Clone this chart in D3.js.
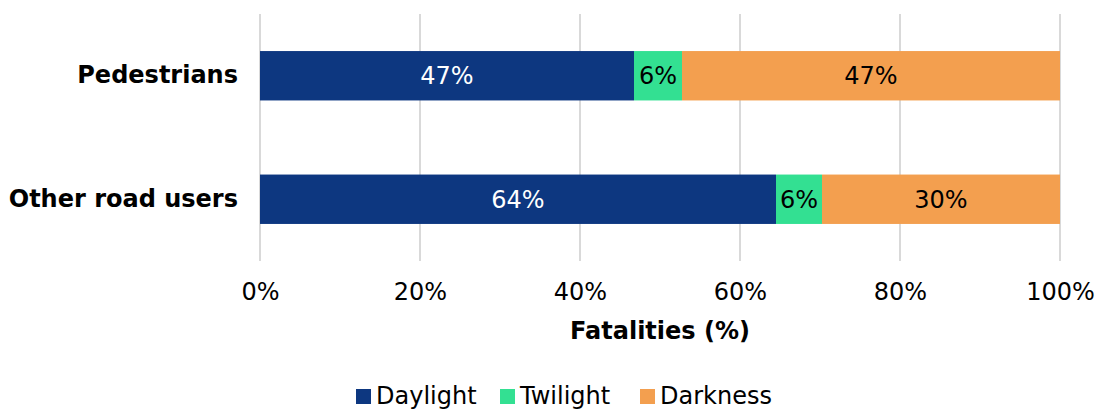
<!DOCTYPE html>
<html>
<head>
<meta charset="utf-8">
<script src="https://cdn.jsdelivr.net/npm/d3@7"></script>
<style>
  html, body { margin: 0; padding: 0; background: #fff; }
  svg { display: block; font-family: "DejaVu Sans", Verdana, sans-serif; }
</style>
</head>
<body>
<svg id="chart" width="1102" height="412"></svg>
<script>
const categories = ["Pedestrians", "Other road users"];
const seriesNames = ["Daylight", "Twilight", "Darkness"];
const daylight = [46.75, 64.5];
const twilight = [6.0, 5.75];
const darkness = [47.25, 29.75];
const dataLabels = [["47%", "6%", "47%"], ["64%", "6%", "30%"]];
const tickValues = [0, 20, 40, 60, 80, 100];
const colors = ["#0d3780", "#33e092", "#f39f4f"];
const labelColors = ["#ffffff", "#000000", "#000000"];

const svg = d3.select("#chart");
const margin = { left: 260, right: 42, top: 14, bottom: 151 };
const W = 1102, H = 412;
const FS = 24;

const x = d3.scaleLinear().domain([0, 100]).range([margin.left, W - margin.right]);
const y = d3.scaleBand().domain(categories).range([margin.top, H - margin.bottom]).paddingInner(0.6).paddingOuter(0.3);

// gridlines
svg.append("g").selectAll("line").data(tickValues).join("line")
  .attr("x1", d => x(d)).attr("x2", d => x(d))
  .attr("y1", margin.top).attr("y2", H - margin.bottom)
  .attr("stroke", "#d9d9d9").attr("stroke-width", 2);

// stack
const rows = categories.map((c, i) => ({ cat: c, Daylight: daylight[i], Twilight: twilight[i], Darkness: darkness[i], idx: i }));
const stack = d3.stack().keys(seriesNames)(rows);

const gBars = svg.append("g");
stack.forEach((layer, si) => {
  gBars.append("g").selectAll("rect").data(layer).join("rect")
    .attr("x", d => x(d[0]))
    .attr("width", d => x(d[1]) - x(d[0]))
    .attr("y", d => y(d.data.cat))
    .attr("height", y.bandwidth())
    .attr("fill", colors[si]);
  gBars.append("g").selectAll("text").data(layer).join("text")
    .attr("x", d => (x(d[0]) + x(d[1])) / 2)
    .attr("y", d => y(d.data.cat) + y.bandwidth() / 2)
    .attr("dy", "0.36em")
    .attr("text-anchor", "middle")
    .attr("font-size", FS)
    .attr("fill", labelColors[si])
    .text(d => dataLabels[d.data.idx][si]);
});

// category labels
const yAxis = d3.axisLeft(y).tickSize(0).tickPadding(22);
const gy = svg.append("g").attr("transform", `translate(${margin.left},0)`).call(yAxis);
gy.select(".domain").remove();
gy.selectAll("text").attr("font-size", FS).attr("font-weight", "bold").attr("fill", "#000")
  .attr("font-family", "DejaVu Sans, Verdana, sans-serif");

// x axis labels
const xAxis = d3.axisBottom(x).tickValues(tickValues).tickFormat(d => d + "%").tickSize(0).tickPadding(22);
const gx = svg.append("g").attr("transform", `translate(0,${H - margin.bottom})`).call(xAxis);
gx.select(".domain").remove();
gx.selectAll("text").attr("font-size", FS).attr("fill", "#000")
  .attr("font-family", "DejaVu Sans, Verdana, sans-serif");

// axis title
svg.append("text").attr("x", (x(0) + x(100)) / 2).attr("y", 339)
  .attr("text-anchor", "middle").attr("font-size", FS).attr("font-weight", "bold")
  .text("Fatalities (%)");

// legend
const legendX = [356, 500, 640];
const lg = svg.append("g");
seriesNames.forEach((s, i) => {
  lg.append("rect").attr("x", legendX[i]).attr("y", 389).attr("width", 15).attr("height", 15).attr("fill", colors[i]);
  lg.append("text").attr("x", legendX[i] + 20).attr("y", 404).attr("font-size", FS).attr("fill", "#000").text(s);
});
</script>
</body>
</html>
